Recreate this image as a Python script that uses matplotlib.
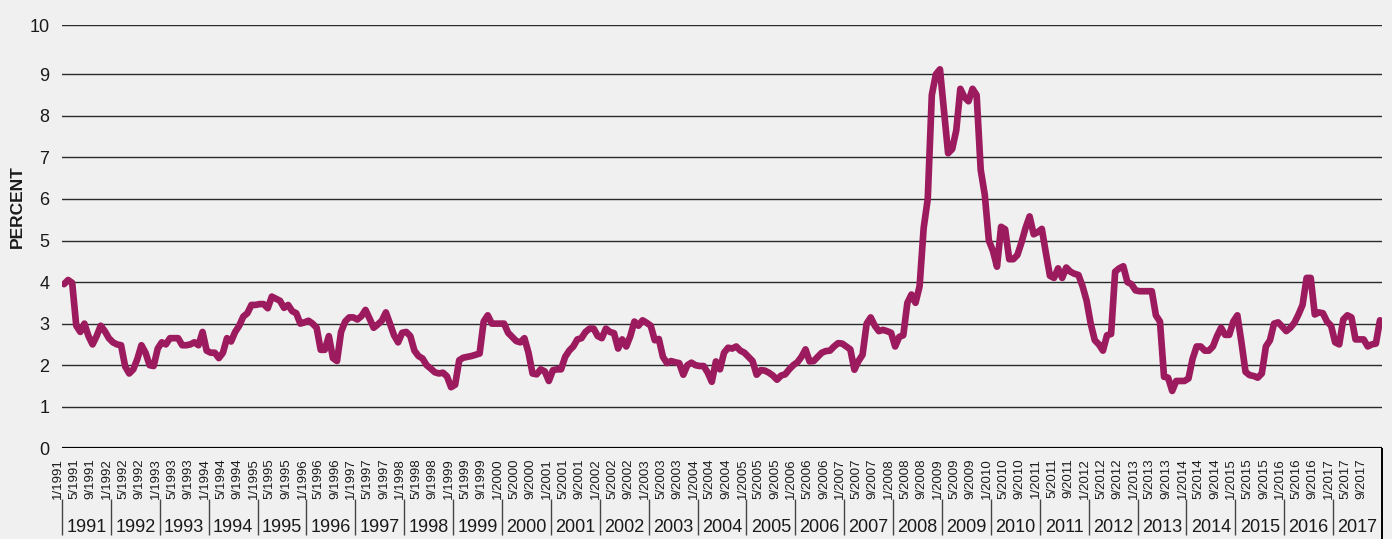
import numpy as np
import matplotlib
matplotlib.use("Agg")
import matplotlib.pyplot as plt

# ---------------- data ----------------
years = list(range(1991, 2018))
y_ticks = list(range(0, 11))

# monthly values, Jan 1991 .. Dec 2017 (percent)
rate = [
    3.95, 4.05, 3.98, 2.95, 2.80, 3.00, 2.70, 2.50, 2.70, 2.95, 2.82, 2.65,   # 1991
    2.55, 2.50, 2.48, 1.97, 1.80, 1.90, 2.15, 2.48, 2.30, 2.00, 1.98, 2.40,   # 1992
    2.55, 2.50, 2.65, 2.65, 2.65, 2.48, 2.48, 2.50, 2.55, 2.48, 2.80, 2.35,   # 1993
    2.30, 2.30, 2.17, 2.30, 2.65, 2.57, 2.80, 2.95, 3.17, 3.25, 3.45, 3.45,   # 1994
    3.47, 3.47, 3.37, 3.65, 3.60, 3.55, 3.38, 3.45, 3.30, 3.25, 3.00, 3.03,   # 1995
    3.07, 3.00, 2.90, 2.37, 2.37, 2.70, 2.17, 2.10, 2.80, 3.05, 3.15, 3.15,   # 1996
    3.10, 3.18, 3.33, 3.12, 2.90, 2.98, 3.07, 3.27, 3.00, 2.72, 2.55, 2.78,   # 1997
    2.80, 2.70, 2.35, 2.22, 2.16, 2.00, 1.92, 1.83, 1.80, 1.82, 1.73, 1.47,   # 1998
    1.53, 2.12, 2.18, 2.20, 2.22, 2.25, 2.28, 3.05, 3.20, 3.00, 3.00, 3.00,   # 1999
    3.00, 2.78, 2.68, 2.58, 2.55, 2.65, 2.30, 1.80, 1.78, 1.90, 1.85, 1.62,   # 2000
    1.88, 1.90, 1.90, 2.20, 2.35, 2.45, 2.62, 2.65, 2.80, 2.88, 2.88, 2.70,   # 2001
    2.65, 2.88, 2.80, 2.77, 2.40, 2.62, 2.45, 2.70, 3.05, 2.95, 3.08, 3.02,   # 2002
    2.95, 2.60, 2.63, 2.20, 2.05, 2.10, 2.07, 2.05, 1.77, 2.00, 2.06, 2.00,   # 2003
    1.98, 1.98, 1.82, 1.60, 2.09, 1.90, 2.30, 2.42, 2.40, 2.45, 2.35, 2.30,   # 2004
    2.20, 2.10, 1.77, 1.88, 1.87, 1.82, 1.75, 1.65, 1.75, 1.78, 1.90, 2.00,   # 2005
    2.07, 2.20, 2.38, 2.09, 2.10, 2.20, 2.30, 2.34, 2.35, 2.45, 2.53, 2.52,   # 2006
    2.45, 2.38, 1.89, 2.10, 2.25, 3.00, 3.15, 2.95, 2.82, 2.85, 2.82, 2.78,   # 2007
    2.45, 2.68, 2.72, 3.50, 3.70, 3.50, 3.90, 5.30, 6.00, 8.50, 9.00, 9.10,   # 2008
    8.10, 7.10, 7.20, 7.65, 8.65, 8.45, 8.35, 8.65, 8.50, 6.70, 6.10, 5.00,   # 2009
    4.75, 4.37, 5.33, 5.27, 4.55, 4.55, 4.65, 4.95, 5.30, 5.58, 5.15, 5.20,   # 2010
    5.28, 4.70, 4.15, 4.10, 4.33, 4.10, 4.35, 4.25, 4.20, 4.17, 3.90, 3.55,   # 2011
    3.00, 2.60, 2.50, 2.35, 2.72, 2.75, 4.25, 4.33, 4.38, 4.00, 3.95, 3.80,   # 2012
    3.78, 3.78, 3.78, 3.78, 3.20, 3.05, 1.72, 1.70, 1.38, 1.62, 1.62, 1.62,   # 2013
    1.68, 2.15, 2.45, 2.45, 2.35, 2.35, 2.45, 2.70, 2.90, 2.73, 2.73, 3.05,   # 2014
    3.20, 2.55, 1.84, 1.76, 1.74, 1.70, 1.80, 2.45, 2.60, 3.00, 3.03, 2.93,   # 2015
    2.82, 2.90, 3.02, 3.22, 3.45, 4.10, 4.10, 3.22, 3.27, 3.25, 3.05, 2.95,   # 2016
    2.55, 2.50, 3.10, 3.20, 3.15, 2.62, 2.62, 2.62, 2.45, 2.50, 2.52, 3.08,   # 2017
]

# month tick labels every 4 months: 1/yyyy, 5/yyyy, 9/yyyy
tick_pos = [i for i in range(len(rate)) if i % 4 == 0]
tick_labels = [f"{i % 12 + 1}/{years[i // 12]}" for i in tick_pos]

# ---------------- style ----------------
plt.rcParams["font.family"] = ["Liberation Sans Narrow", "Liberation Sans", "DejaVu Sans"]
BG = "#f0f0f0"
LINE = "#9c1b5f"
TXT = "#1a1a1a"

# the reference's top band (9-10) is drawn a bit taller than the others
K = 49.3 / 41.58


def fwd(v):
    v = np.asarray(v, dtype=float)
    return np.where(v <= 9, v, 9 + (v - 9) * K)


def inv(u):
    u = np.asarray(u, dtype=float)
    return np.where(u <= 9, u, 9 + (u - 9) / K)


W, H = 1392, 539
fig = plt.figure(figsize=(W / 100, H / 100), dpi=100, facecolor=BG)
ax = fig.add_axes([62 / W, 1 - 448.3 / H, 1320 / W, (448.3 - 25) / H])
ax.set_facecolor(BG)
ax.set_yscale("function", functions=(fwd, inv))
ax.set_ylim(0, 10)
n = len(rate)
ax.set_xlim(-0.5, n - 0.5)
for s in ax.spines.values():
    s.set_visible(False)

ax.set_yticks(y_ticks)
ax.set_yticklabels([str(t) for t in y_ticks], fontsize=13, color=TXT)
ax.tick_params(axis="y", length=0, pad=9)
ax.yaxis.grid(True, color="#2a2a2a", lw=1.0)
ax.set_axisbelow(True)
ax.axhline(0, color="black", lw=2.3, zorder=3)

ax.plot(np.arange(n), rate, color=LINE, lw=4.8,
        solid_joinstyle="round", solid_capstyle="round", zorder=4)

ax.set_xticks(tick_pos)
ax.set_xticklabels(tick_labels, rotation=90, fontsize=9.5, ha="right", va="top", color=TXT)
ax.tick_params(axis="x", length=0, pad=7)

# second-level (year) category axis
trans = ax.get_xaxis_transform()
for k, yr in enumerate(years):
    ax.text(12 * k + 5.5, -0.187, str(yr), transform=trans, ha="center", va="center",
            fontsize=13, color=TXT, clip_on=False)
ax.vlines([12 * k - 0.5 for k in range(len(years))], -0.2049, -0.1198,
          transform=trans, colors="#444444", lw=1.0, clip_on=False)
ax.vlines([n - 0.5], -0.2143, 0, transform=trans, colors="black", lw=1.4, clip_on=False)

fig.text(17 / W, 1 - 207 / H, "PERCENT", rotation=90, fontsize=12.5, fontweight="bold",
         ha="center", va="center", color=TXT)

fig.savefig("out.png", dpi=100, facecolor=BG)
